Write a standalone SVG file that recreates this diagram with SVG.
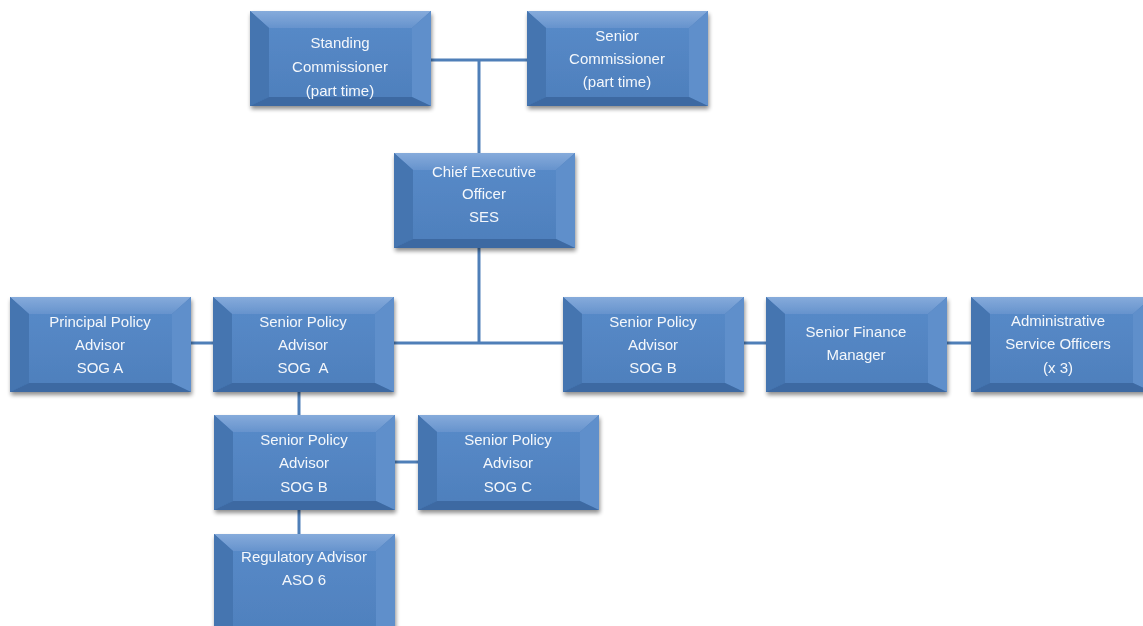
<svg xmlns="http://www.w3.org/2000/svg" xmlns:xlink="http://www.w3.org/1999/xlink" width="1143" height="626" viewBox="0 0 1143 626">
<style>
.lbl{font-family:"Liberation Sans",Arial,sans-serif;font-size:15px;fill:#f4f7fb;text-anchor:middle}
.conn{stroke:#4f7fb8;stroke-width:3;fill:none}
</style>
<defs>
<linearGradient id="gTop" x1="0" y1="0" x2="0" y2="1"><stop offset="0" stop-color="#86abdb"/><stop offset="1" stop-color="#6693cd"/></linearGradient>
<linearGradient id="gFace" x1="0" y1="0" x2="0" y2="1"><stop offset="0" stop-color="#5689c7"/><stop offset="1" stop-color="#4f80bd"/></linearGradient>
<filter id="sh" x="-10%" y="-10%" width="125%" height="130%"><feGaussianBlur in="SourceAlpha" stdDeviation="2"/><feOffset dx="1" dy="3"/><feComponentTransfer><feFuncA type="linear" slope="0.45"/></feComponentTransfer><feMerge><feMergeNode/><feMergeNode in="SourceGraphic"/></feMerge></filter>
<g id="bevel">
<rect x="0" y="0" width="181" height="95" fill="#4f80bd"/>
<polygon points="0,0 181,0 162,17 19,17" fill="url(#gTop)"/>
<polygon points="0,0 19,17 19,86 0,95" fill="#4474b0"/>
<polygon points="181,0 181,95 162,86 162,17" fill="#5f8fcb"/>
<polygon points="0,95 19,86 162,86 181,95" fill="#3d69a2"/>
<rect x="19" y="17" width="143" height="69" fill="url(#gFace)"/>
</g>
<g id="bevelTall">
<rect x="0" y="0" width="181" height="110" fill="#4f80bd"/>
<polygon points="0,0 181,0 162,17 19,17" fill="url(#gTop)"/>
<polygon points="0,0 19,17 19,101 0,110" fill="#4474b0"/>
<polygon points="181,0 181,110 162,101 162,17" fill="#5f8fcb"/>
<polygon points="0,110 19,101 162,101 181,110" fill="#3d69a2"/>
<rect x="19" y="17" width="143" height="84" fill="url(#gFace)"/>
</g>
</defs>
<rect width="1143" height="626" fill="#ffffff"/>
<g id="connectors">
<line class="conn" x1="431" y1="60" x2="527" y2="60"/>
<line class="conn" x1="479" y1="60" x2="479" y2="153"/>
<line class="conn" x1="479" y1="247" x2="479" y2="343"/>
<line class="conn" x1="394" y1="343" x2="563" y2="343"/>
<line class="conn" x1="191" y1="343" x2="213" y2="343"/>
<line class="conn" x1="743" y1="343" x2="767" y2="343"/>
<line class="conn" x1="946" y1="343" x2="971" y2="343"/>
<line class="conn" x1="299" y1="391" x2="299" y2="415"/>
<line class="conn" x1="395" y1="462" x2="418" y2="462"/>
<line class="conn" x1="299" y1="509" x2="299" y2="534"/>
</g>
<g id="standing" filter="url(#sh)"><use xlink:href="#bevel" x="250" y="11"/>
<text class="lbl" x="340" y="48">Standing</text><text class="lbl" x="340" y="72">Commissioner</text><text class="lbl" x="340" y="96">(part time)</text></g>
<g id="senior-comm" filter="url(#sh)"><use xlink:href="#bevel" x="527" y="11"/>
<text class="lbl" x="617" y="41">Senior</text><text class="lbl" x="617" y="64">Commissioner</text><text class="lbl" x="617" y="87">(part time)</text></g>
<g id="ceo" filter="url(#sh)"><use xlink:href="#bevel" x="394" y="153"/>
<text class="lbl" x="484" y="177">Chief Executive</text><text class="lbl" x="484" y="199">Officer</text><text class="lbl" x="484" y="222">SES</text></g>
<g id="principal" filter="url(#sh)"><use xlink:href="#bevel" x="10" y="297"/>
<text class="lbl" x="100" y="327">Principal Policy</text><text class="lbl" x="100" y="350">Advisor</text><text class="lbl" x="100" y="373">SOG A</text></g>
<g id="spa-a" filter="url(#sh)"><use xlink:href="#bevel" x="213" y="297"/>
<text class="lbl" x="303" y="327">Senior Policy</text><text class="lbl" x="303" y="350">Advisor</text><text class="lbl" x="303" y="373" xml:space="preserve">SOG  A</text></g>
<g id="spa-b" filter="url(#sh)"><use xlink:href="#bevel" x="563" y="297"/>
<text class="lbl" x="653" y="327">Senior Policy</text><text class="lbl" x="653" y="350">Advisor</text><text class="lbl" x="653" y="373">SOG B</text></g>
<g id="finance" filter="url(#sh)"><use xlink:href="#bevel" x="766" y="297"/>
<text class="lbl" x="856" y="337">Senior Finance</text><text class="lbl" x="856" y="360">Manager</text></g>
<g id="admin" filter="url(#sh)"><use xlink:href="#bevel" x="971" y="297"/>
<text class="lbl" x="1058" y="326">Administrative</text><text class="lbl" x="1058" y="349">Service Officers</text><text class="lbl" x="1058" y="373">(x 3)</text></g>
<g id="spa-b2" filter="url(#sh)"><use xlink:href="#bevel" x="214" y="415"/>
<text class="lbl" x="304" y="445">Senior Policy</text><text class="lbl" x="304" y="468">Advisor</text><text class="lbl" x="304" y="492">SOG B</text></g>
<g id="spa-c" filter="url(#sh)"><use xlink:href="#bevel" x="418" y="415"/>
<text class="lbl" x="508" y="445">Senior Policy</text><text class="lbl" x="508" y="468">Advisor</text><text class="lbl" x="508" y="492">SOG C</text></g>
<g id="regulatory" filter="url(#sh)"><use xlink:href="#bevelTall" x="214" y="534"/>
<text class="lbl" x="304" y="562">Regulatory Advisor</text><text class="lbl" x="304" y="585">ASO 6</text></g>
</svg>
